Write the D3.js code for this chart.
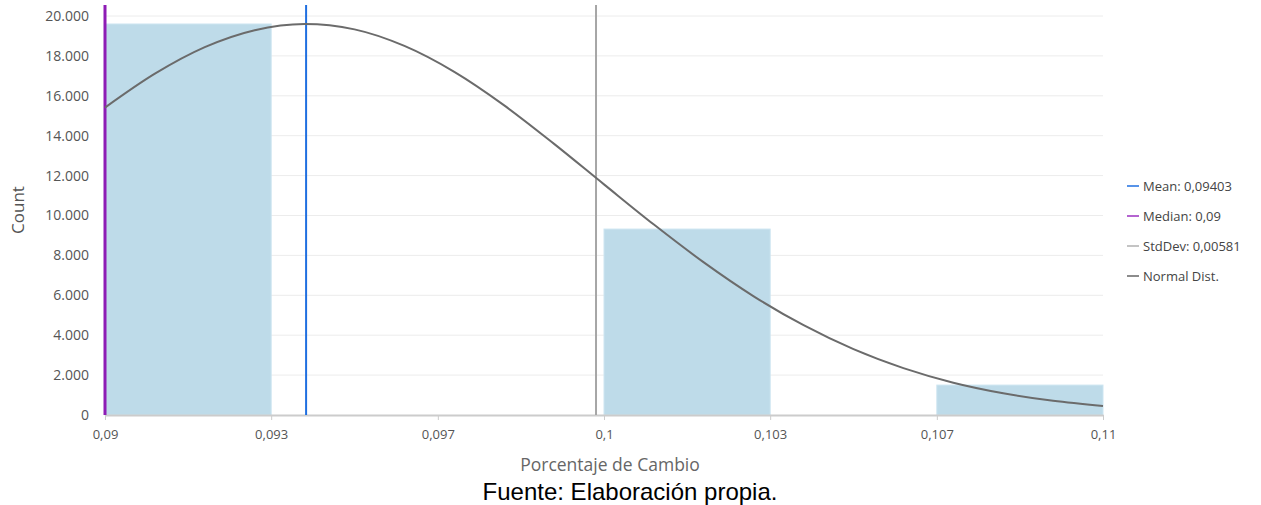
<!DOCTYPE html>
<html>
<head>
<meta charset="utf-8">
<script src="https://cdn.jsdelivr.net/npm/d3@7"></script>
<style>
  html, body { margin: 0; padding: 0; background: #fff; }
  svg { display: block; }
</style>
</head>
<body>
<svg id="chart" width="1261" height="505"></svg>
<script>
// ---- Data ----
const binStarts = [0.09, 0.09333, 0.09667, 0.1, 0.10333, 0.10667];
const binEnds   = [0.09333, 0.09667, 0.1, 0.10333, 0.10667, 0.11];
const binCounts = [19600, 0, 0, 9320, 0, 1500];

const xTickValues = [0.09, 0.09333, 0.09667, 0.1, 0.10333, 0.10667, 0.11];
const xTickLabels = ["0,09", "0,093", "0,097", "0,1", "0,103", "0,107", "0,11"];
const yTickValues = [0, 2000, 4000, 6000, 8000, 10000, 12000, 14000, 16000, 18000, 20000];
const yTickLabels = ["0", "2.000", "4.000", "6.000", "8.000", "10.000", "12.000", "14.000", "16.000", "18.000", "20.000"];

const meanValue = 0.09403;
const medianValue = 0.09;
const stdDevValue = 0.00581;

// Normal distribution curve
const curveX = [0.090, 0.091, 0.092, 0.093, 0.094, 0.095, 0.096, 0.097, 0.098, 0.099, 0.100,
                0.101, 0.102, 0.103, 0.104, 0.105, 0.106, 0.107, 0.108, 0.109, 0.110];
const curveY = [15410, 17110, 18440, 19290, 19600, 19330, 18500, 17200, 15520, 13590, 11560,
                9545, 7650, 5950, 4500, 3300, 2350, 1620, 1090, 710, 450];

const legendLabels = ["Mean: 0,09403", "Median: 0,09", "StdDev: 0,00581", "Normal Dist."];
const legendColors = ["#1f6fe0", "#9b30c0", "#b0b0b0", "#666666"];

// ---- Layout ----
const svg = d3.select("#chart");
const plotLeft = 105, plotRight = 1103, plotBottom = 415, plotTop = 5;
const x = d3.scaleLinear().domain([0.09, 0.11]).range([plotLeft, plotRight]);
const y = d3.scaleLinear().domain([0, 20000]).range([plotBottom, 16]);
const font = "'Open Sans', 'Noto Sans', sans-serif";

// grid
svg.append("g").selectAll("line").data(yTickValues.filter(v => v > 0)).join("line")
  .attr("x1", plotLeft).attr("x2", plotRight)
  .attr("y1", d => y(d)).attr("y2", d => y(d))
  .attr("stroke", "#ececec").attr("stroke-width", 1);

// bars
const bins = binStarts.map((s, i) => ({ s, e: binEnds[i], c: binCounts[i] })).filter(d => d.c > 0);
svg.append("g").selectAll("rect").data(bins).join("rect")
  .attr("x", d => x(d.s)).attr("width", d => x(d.e) - x(d.s))
  .attr("y", d => y(d.c)).attr("height", d => y(0) - y(d.c))
  .attr("fill", "#bedbe9").attr("stroke", "#cde5f1").attr("stroke-width", 1);

// y axis
const yAxis = d3.axisLeft(y).tickValues(yTickValues)
  .tickFormat((d, i) => yTickLabels[i]).tickSize(0).tickPadding(16);
const gy = svg.append("g").attr("transform", `translate(${plotLeft},0)`).call(yAxis);
gy.select(".domain").remove();
gy.selectAll("text").attr("font-family", font).attr("font-size", 14).attr("fill", "#555");

// x axis
const xAxis = d3.axisBottom(x).tickValues(xTickValues)
  .tickFormat((d, i) => xTickLabels[i]).tickSize(5).tickSizeOuter(0).tickPadding(10);
const gx = svg.append("g").attr("transform", `translate(0,${plotBottom})`).call(xAxis);
gx.select(".domain").attr("stroke", "#cccccc").attr("stroke-width", 2);
gx.selectAll(".tick line").attr("stroke", "#cccccc");
gx.selectAll("text").attr("font-family", font).attr("font-size", 13).attr("fill", "#555");

// vertical stat lines
const vlines = [
  { v: meanValue, c: legendColors[0], w: 2 },
  { v: meanValue + stdDevValue, c: "#a6a6a6", w: 2 },
  { v: medianValue, c: "#8e1cb5", w: 3 }
];
svg.append("g").selectAll("line").data(vlines).join("line")
  .attr("x1", d => x(d.v)).attr("x2", d => x(d.v))
  .attr("y1", plotTop).attr("y2", plotBottom)
  .attr("stroke", d => d.c).attr("stroke-width", d => d.w);

// normal curve
const pts = curveX.map((v, i) => [v, curveY[i]]);
svg.append("path").datum(pts)
  .attr("d", d3.line().x(d => x(d[0])).y(d => y(d[1])).curve(d3.curveMonotoneX))
  .attr("fill", "none").attr("stroke", "#6b6b6b").attr("stroke-width", 2);

// axis titles
svg.append("text").attr("transform", "translate(24,210) rotate(-90)")
  .attr("text-anchor", "middle").attr("font-family", font).attr("font-size", 17).attr("fill", "#555")
  .text("Count");
svg.append("text").attr("x", 610).attr("y", 471)
  .attr("text-anchor", "middle").attr("font-family", font).attr("font-size", 17.5).attr("fill", "#666")
  .text("Porcentaje de Cambio");
svg.append("text").attr("x", 630).attr("y", 500)
  .attr("text-anchor", "middle").attr("font-family", "'Liberation Sans', Arial, sans-serif")
  .attr("font-size", 24).attr("fill", "#000")
  .text("Fuente: Elaboración propia.");

// legend
const lg = svg.append("g").selectAll("g").data(legendLabels).join("g")
  .attr("transform", (d, i) => `translate(1127,${186 + i * 30})`);
lg.append("line").attr("x1", 0).attr("x2", 12).attr("y1", 0).attr("y2", 0)
  .attr("stroke", (d, i) => legendColors[i]).attr("stroke-width", 1.5);
lg.append("text").attr("x", 16).attr("y", 0).attr("dy", "0.35em")
  .attr("font-family", font).attr("font-size", 13).attr("fill", "#444")
  .text(d => d);
</script>
</body>
</html>
